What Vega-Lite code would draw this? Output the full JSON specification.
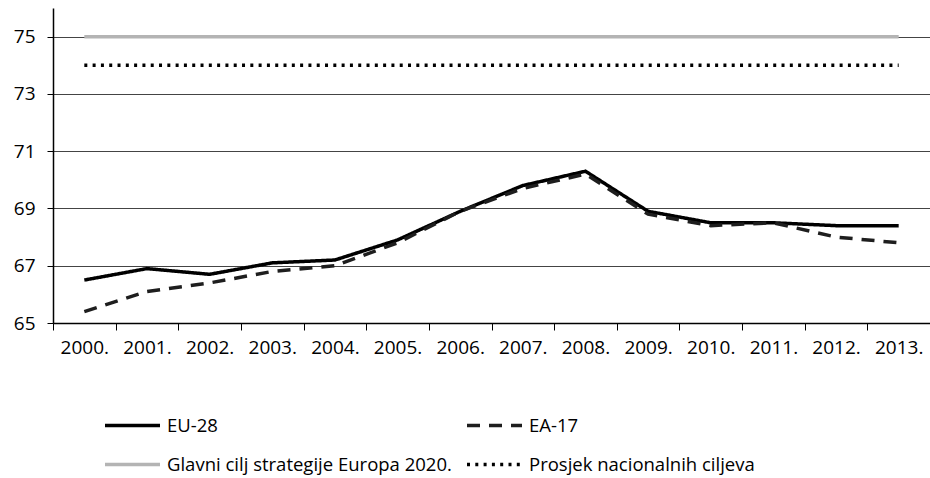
{
  "$schema": "https://vega.github.io/schema/vega-lite/v6.json",
  "width": 877,
  "height": 315,
  "autosize": {"type": "none"},
  "padding": {"left": 53, "top": 8, "right": 0, "bottom": 155},
  "background": "white",
  "config": {
    "font": "Open Sans",
    "view": {"stroke": null},
    "axis": {"labelFont": "Open Sans", "labelFontSize": 19, "labelColor": "#000", "domainColor": "#000", "tickColor": "#000", "domainWidth": 1.5}
  },
  "data": {
    "values": [
      {"year": "2000.", "series": "Glavni cilj strategije Europa 2020.", "value": 75},
      {"year": "2001.", "series": "Glavni cilj strategije Europa 2020.", "value": 75},
      {"year": "2002.", "series": "Glavni cilj strategije Europa 2020.", "value": 75},
      {"year": "2003.", "series": "Glavni cilj strategije Europa 2020.", "value": 75},
      {"year": "2004.", "series": "Glavni cilj strategije Europa 2020.", "value": 75},
      {"year": "2005.", "series": "Glavni cilj strategije Europa 2020.", "value": 75},
      {"year": "2006.", "series": "Glavni cilj strategije Europa 2020.", "value": 75},
      {"year": "2007.", "series": "Glavni cilj strategije Europa 2020.", "value": 75},
      {"year": "2008.", "series": "Glavni cilj strategije Europa 2020.", "value": 75},
      {"year": "2009.", "series": "Glavni cilj strategije Europa 2020.", "value": 75},
      {"year": "2010.", "series": "Glavni cilj strategije Europa 2020.", "value": 75},
      {"year": "2011.", "series": "Glavni cilj strategije Europa 2020.", "value": 75},
      {"year": "2012.", "series": "Glavni cilj strategije Europa 2020.", "value": 75},
      {"year": "2013.", "series": "Glavni cilj strategije Europa 2020.", "value": 75},
      {"year": "2000.", "series": "Prosjek nacionalnih ciljeva", "value": 74},
      {"year": "2001.", "series": "Prosjek nacionalnih ciljeva", "value": 74},
      {"year": "2002.", "series": "Prosjek nacionalnih ciljeva", "value": 74},
      {"year": "2003.", "series": "Prosjek nacionalnih ciljeva", "value": 74},
      {"year": "2004.", "series": "Prosjek nacionalnih ciljeva", "value": 74},
      {"year": "2005.", "series": "Prosjek nacionalnih ciljeva", "value": 74},
      {"year": "2006.", "series": "Prosjek nacionalnih ciljeva", "value": 74},
      {"year": "2007.", "series": "Prosjek nacionalnih ciljeva", "value": 74},
      {"year": "2008.", "series": "Prosjek nacionalnih ciljeva", "value": 74},
      {"year": "2009.", "series": "Prosjek nacionalnih ciljeva", "value": 74},
      {"year": "2010.", "series": "Prosjek nacionalnih ciljeva", "value": 74},
      {"year": "2011.", "series": "Prosjek nacionalnih ciljeva", "value": 74},
      {"year": "2012.", "series": "Prosjek nacionalnih ciljeva", "value": 74},
      {"year": "2013.", "series": "Prosjek nacionalnih ciljeva", "value": 74},
      {"year": "2000.", "series": "EU-28", "value": 66.5},
      {"year": "2001.", "series": "EU-28", "value": 66.9},
      {"year": "2002.", "series": "EU-28", "value": 66.7},
      {"year": "2003.", "series": "EU-28", "value": 67.1},
      {"year": "2004.", "series": "EU-28", "value": 67.2},
      {"year": "2005.", "series": "EU-28", "value": 67.9},
      {"year": "2006.", "series": "EU-28", "value": 68.9},
      {"year": "2007.", "series": "EU-28", "value": 69.8},
      {"year": "2008.", "series": "EU-28", "value": 70.3},
      {"year": "2009.", "series": "EU-28", "value": 68.9},
      {"year": "2010.", "series": "EU-28", "value": 68.5},
      {"year": "2011.", "series": "EU-28", "value": 68.5},
      {"year": "2012.", "series": "EU-28", "value": 68.4},
      {"year": "2013.", "series": "EU-28", "value": 68.4},
      {"year": "2000.", "series": "EA-17", "value": 65.4},
      {"year": "2001.", "series": "EA-17", "value": 66.1},
      {"year": "2002.", "series": "EA-17", "value": 66.4},
      {"year": "2003.", "series": "EA-17", "value": 66.8},
      {"year": "2004.", "series": "EA-17", "value": 67.0},
      {"year": "2005.", "series": "EA-17", "value": 67.8},
      {"year": "2006.", "series": "EA-17", "value": 68.9},
      {"year": "2007.", "series": "EA-17", "value": 69.7},
      {"year": "2008.", "series": "EA-17", "value": 70.2},
      {"year": "2009.", "series": "EA-17", "value": 68.8},
      {"year": "2010.", "series": "EA-17", "value": 68.4},
      {"year": "2011.", "series": "EA-17", "value": 68.5},
      {"year": "2012.", "series": "EA-17", "value": 68.0},
      {"year": "2013.", "series": "EA-17", "value": 67.8}
    ]
  },
  "mark": {"type": "line", "strokeWidth": 3.5},
  "encoding": {
    "x": {
      "field": "year", "type": "ordinal", "bandPosition": 0.5,
      "scale": {"type": "band", "paddingInner": 0, "paddingOuter": 0},
      "axis": {"title": null, "labelAngle": 0, "tickBand": "extent", "tickSize": 7, "labelPadding": 8, "grid": false}
    },
    "y": {
      "field": "value", "type": "quantitative",
      "scale": {"domain": [65, 76], "nice": false, "zero": false},
      "axis": {"title": null, "values": [65, 67, 69, 71, 73, 75], "tickSize": 6, "labelPadding": 12, "grid": true, "gridColor": "#444", "gridWidth": 1.2, "gridOpacity": 1}
    },
    "color": {
      "field": "series", "type": "nominal",
      "scale": {
        "domain": ["EU-28", "EA-17", "Glavni cilj strategije Europa 2020.", "Prosjek nacionalnih ciljeva"],
        "range": ["#000000", "#1e1e1e", "#b4b4b4", "#000000"]
      },
      "legend": {
        "title": null, "orient": "none", "legendX": 50, "legendY": 388, "columns": 2, "direction": "horizontal",
        "symbolType": "stroke", "symbolSize": 3025, "symbolStrokeWidth": 3.5,
        "labelFont": "Open Sans", "labelFontSize": 18.5, "labelColor": "#000", "labelLimit": 500, "labelOffset": 5,
        "columnPadding": 8, "rowPadding": -12
      }
    },
    "strokeDash": {
      "field": "series", "type": "nominal",
      "scale": {
        "domain": ["EU-28", "EA-17", "Glavni cilj strategije Europa 2020.", "Prosjek nacionalnih ciljeva"],
        "range": [[1, 0], [13, 9], [1, 0], [3, 5.3]]
      },
      "legend": null
    }
  }
}
